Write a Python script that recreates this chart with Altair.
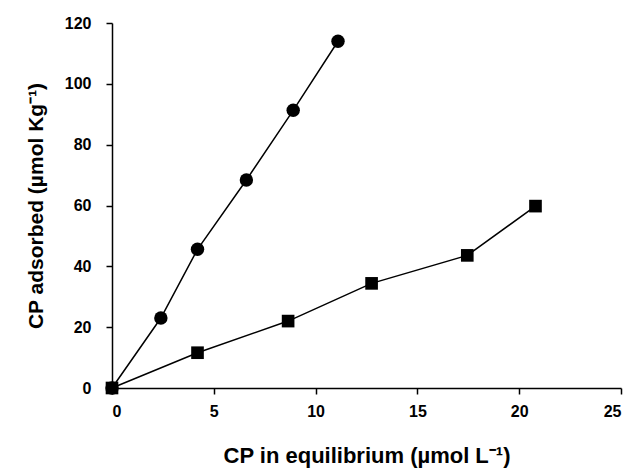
import altair as alt
import pandas as pd

# Series 1 (circles)
circle_x = [0.0, 2.4, 4.2, 6.6, 8.9, 11.1]
circle_y = [0.0, 23.0, 45.6, 68.4, 91.3, 114.0]
# Series 2 (squares)
square_x = [0.0, 4.2, 8.65, 12.75, 17.45, 20.8]
square_y = [0.0, 11.6, 22.0, 34.4, 43.6, 59.8]

x_ticks = [0, 5, 10, 15, 20, 25]
y_ticks = [0, 20, 40, 60, 80, 100, 120]

df = pd.concat([
    pd.DataFrame({"x": circle_x, "y": circle_y, "series": "A"}),
    pd.DataFrame({"x": square_x, "y": square_y, "series": "B"}),
], ignore_index=True)

FONT = "Liberation Sans"

x_enc = alt.X("x:Q",
              scale=alt.Scale(domain=[0, 25], nice=False, zero=False),
              axis=alt.Axis(values=x_ticks, title="CP in equilibrium (µmol L⁻¹)",
                            grid=False, domainColor="black", tickColor="black",
                            tickSize=6, labelPadding=9, labelFontSize=16,
                            labelFontWeight="bold", labelColor="black",
                            titleFontSize=22, titleFontWeight="bold", titleColor="black",
                            titlePadding=26, labelFont=FONT, titleFont=FONT))
y_enc = alt.Y("y:Q",
              scale=alt.Scale(domain=[0, 120], nice=False, zero=False),
              axis=alt.Axis(values=y_ticks, title="CP adsorbed (µmol Kg⁻¹)",
                            grid=False, domainColor="black", tickColor="black",
                            tickSize=6, labelPadding=15, labelFontSize=16,
                            labelFontWeight="bold", labelColor="black",
                            titleFontSize=21, titleFontWeight="bold", titleColor="black",
                            titlePadding=18, labelFont=FONT, titleFont=FONT))

lines = alt.Chart(df).mark_line(color="black", strokeWidth=1.5).encode(
    x=x_enc, y=y_enc, detail="series:N"
)
points = alt.Chart(df).mark_point(filled=True, color="black", opacity=1).encode(
    x="x:Q", y="y:Q",
    shape=alt.Shape("series:N", scale=alt.Scale(domain=["A", "B"], range=["circle", "square"]), legend=None),
    size=alt.Size("series:N", scale=alt.Scale(domain=["A", "B"], range=[180, 160]), legend=None),
)

chart = alt.layer(lines, points).properties(
    width=509, height=365,
    autosize=alt.AutoSizeParams(type="none"),
    padding={"left": 112, "top": 23, "right": 12, "bottom": 84},
).configure_view(stroke=None).configure_axis(domainWidth=1.5, tickWidth=1.5)

chart.save("out.html", embed_options={"renderer": "svg", "actions": False})
